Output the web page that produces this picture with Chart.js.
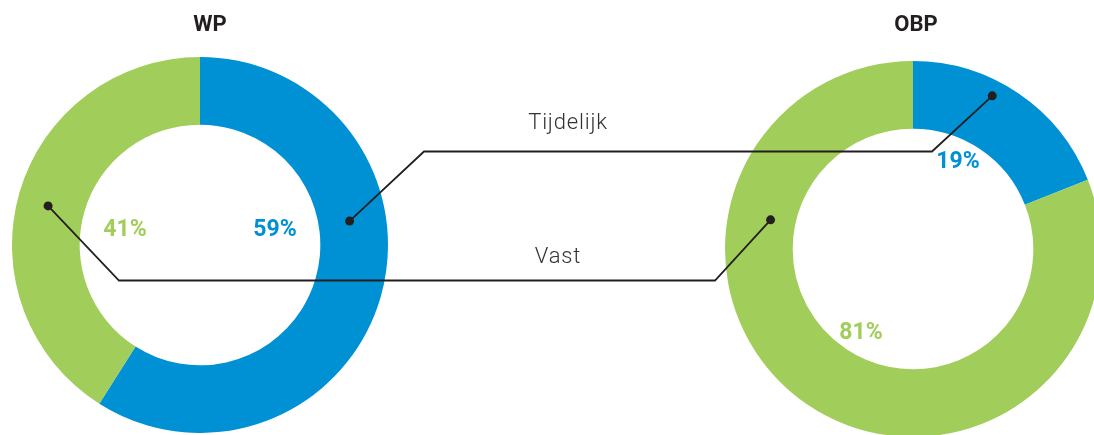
<!DOCTYPE html>
<html><head><meta charset="utf-8">
<script src="https://cdn.jsdelivr.net/npm/chart.js@4/dist/chart.umd.min.js"></script>
<style>
html,body{margin:0;padding:0;overflow:hidden;background:#fff}
#wrap{position:relative;width:1094px;height:435px;overflow:hidden;font-family:Roboto,"Noto Sans",sans-serif}
canvas{position:absolute}
.t{position:absolute;transform:translate(-50%,-50%);white-space:nowrap;line-height:1}
.title{font-weight:700;font-size:22px;color:#231f20}
.cat{font-weight:300;font-size:22px;letter-spacing:0.8px;color:#333}
.pct{font-weight:700;font-size:23px}
</style></head><body>
<div id="wrap">
<canvas id="c1" width="376" height="376" style="left:12px;top:57px;width:376px;height:376px"></canvas>
<canvas id="c2" width="376" height="376" style="left:725px;top:61px;width:376px;height:376px"></canvas>
<canvas id="ov" width="1094" height="435" style="left:0;top:0;width:1094px;height:435px"></canvas>
</div>
<script>
// ---- data ----
const categories = ['Tijdelijk', 'Vast'];
const groups = ['WP', 'OBP'];
const wpValues = [59, 41];
const obpValues = [19, 81];

// ---- styles ----
const BLUE = '#0091d5', GREEN = '#a1cd5b', INK = '#231f20';
const sliceColors = [BLUE, GREEN];

function makeChart(id, values) {
  return new Chart(document.getElementById(id), {
    type: 'doughnut',
    data: { labels: categories, datasets: [{ data: values, backgroundColor: sliceColors, borderWidth: 0 }] },
    options: {
      responsive: false, maintainAspectRatio: false, animation: false,
      cutout: '64%', layout: { padding: 0 },
      plugins: { legend: { display: false }, tooltip: { enabled: false }, title: { display: false } },
      events: []
    }
  });
}
const charts = [makeChart('c1', wpValues), makeChart('c2', obpValues)];
const canvOff = [[12, 57], [725, 61]];
const allValues = [wpValues, obpValues];

const wrap = document.getElementById('wrap');
function addText(cls, txt, x, y, color) {
  const d = document.createElement('div');
  d.className = 't ' + cls; d.textContent = txt;
  d.style.left = x + 'px'; d.style.top = y + 'px';
  if (color) d.style.color = color;
  wrap.appendChild(d);
}

function arcInfo(ci, idx) {
  const el = charts[ci].getDatasetMeta(0).data[idx];
  return { x: el.x + canvOff[ci][0], y: el.y + canvOff[ci][1], s: el.startAngle, e: el.endAngle, ri: el.innerRadius, ro: el.outerRadius };
}
function anchor(ci, idx, af, rf) {
  const a = arcInfo(ci, idx);
  const ang = a.s + af * (a.e - a.s);
  const r = a.ri + rf * (a.ro - a.ri);
  return [a.x + r * Math.cos(ang), a.y + r * Math.sin(ang)];
}

// titles
const titleDx = [10, 3];
groups.forEach((g, ci) => {
  const a = arcInfo(ci, 0);
  addText('title', g, a.x + titleDx[ci], 24);
});

// percent labels (offsets from chart centre)
const pctOff = [[[75, -17], [-75, -17]], [[45, -89], [-52, 82]]];
allValues.forEach((vals, ci) => {
  const a = arcInfo(ci, 0);
  vals.forEach((v, i) => addText('pct', v + '%', a.x + pctOff[ci][i][0], a.y + pctOff[ci][i][1], sliceColors[i]));
});

// connector lines
const ctx = document.getElementById('ov').getContext('2d');
ctx.strokeStyle = INK; ctx.fillStyle = INK; ctx.lineWidth = 1.8; ctx.lineJoin = 'miter';
const connectors = [
  { idx: 0, a: [0.381, 0.46], b: [0.40, 0.77], y: 151.5, ex: [424, 932], label: [568, 122] },
  { idx: 1, a: [0.488, 0.54], b: [0.731, 0.37], y: 280.5, ex: [119, 715], label: [558, 256] }
];
connectors.forEach(c => {
  const p1 = anchor(0, c.idx, c.a[0], c.a[1]);
  const p2 = anchor(1, c.idx, c.b[0], c.b[1]);
  ctx.beginPath();
  ctx.moveTo(p1[0], p1[1]);
  ctx.lineTo(c.ex[0], c.y);
  ctx.lineTo(c.ex[1], c.y);
  ctx.lineTo(p2[0], p2[1]);
  ctx.stroke();
  [p1, p2].forEach(p => { ctx.beginPath(); ctx.arc(p[0], p[1], 4.5, 0, Math.PI * 2); ctx.fill(); });
  addText('cat', categories[c.idx], c.label[0], c.label[1]);
});
</script>
</body></html>
